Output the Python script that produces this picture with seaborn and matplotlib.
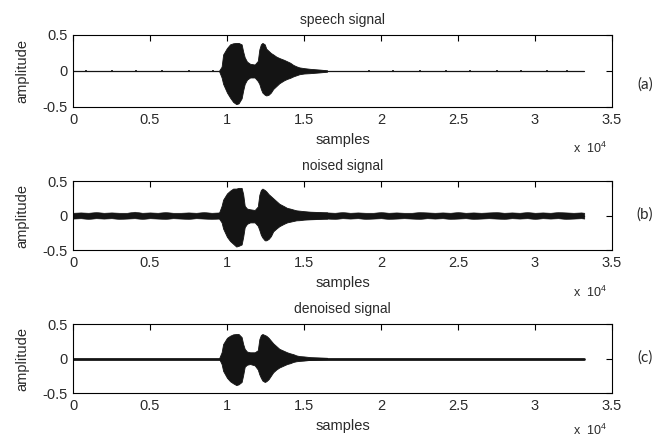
import matplotlib
matplotlib.use("Agg")
import matplotlib.pyplot as plt
import seaborn as sns

# ---------------- data ----------------
titles = ["speech signal", "noised signal", "denoised signal"]
panel_tags = ["(a)", "(b)", "(c)"]
xtick_vals = [0, 5000, 10000, 15000, 20000, 25000, 30000, 35000]
xtick_labels = ["0", "0.5", "1", "1.5", "2", "2.5", "3", "3.5"]
ytick_vals = [-0.5, 0, 0.5]
ytick_labels = ["-0.5", "0", "0.5"]

# baseline of each signal (first / last sample)
base_x = [0, 33200]
base_y = [0.0, 0.0]

# envelope sample positions around the spoken word
env_x = [9500, 9650, 9750, 10000, 10200, 10400, 10600, 10750, 10950, 11050,
         11150, 11300, 11500, 11800, 12000, 12100, 12200, 12300, 12450, 12550,
         12700, 12850, 13000, 13200, 13400, 13700, 13900, 14100, 14300, 14500,
         14700, 15000, 15400, 16000, 16500]

speech_upper = [0.01, 0.06, 0.23, 0.32, 0.37, 0.385, 0.39, 0.39, 0.37, 0.27,
                0.19, 0.13, 0.10, 0.09, 0.14, 0.30, 0.37, 0.39, 0.37, 0.31,
                0.28, 0.25, 0.23, 0.20, 0.18, 0.155, 0.135, 0.115, 0.085, 0.065,
                0.05, 0.04, 0.03, 0.02, 0.01]
speech_lower = [-0.01, -0.09, -0.18, -0.30, -0.37, -0.43, -0.46, -0.45, -0.38, -0.27,
                -0.18, -0.12, -0.09, -0.09, -0.14, -0.18, -0.25, -0.30, -0.33, -0.34,
                -0.33, -0.30, -0.25, -0.21, -0.17, -0.13, -0.11, -0.095, -0.075, -0.06,
                -0.045, -0.035, -0.03, -0.02, -0.01]

noised_upper = [0.05, 0.14, 0.23, 0.32, 0.36, 0.39, 0.39, 0.40, 0.40, 0.31,
                0.14, 0.10, 0.09, 0.08, 0.13, 0.30, 0.37, 0.39, 0.37, 0.35,
                0.31, 0.28, 0.25, 0.21, 0.17, 0.135, 0.11, 0.10, 0.087, 0.075,
                0.07, 0.063, 0.055, 0.05, 0.045]
noised_lower = [-0.05, -0.10, -0.19, -0.31, -0.37, -0.41, -0.45, -0.44, -0.42, -0.31,
                -0.17, -0.12, -0.10, -0.10, -0.15, -0.21, -0.28, -0.32, -0.36, -0.36,
                -0.34, -0.30, -0.23, -0.19, -0.155, -0.12, -0.10, -0.09, -0.08, -0.07,
                -0.068, -0.06, -0.055, -0.05, -0.045]

denoised_upper = [0.01, 0.09, 0.21, 0.30, 0.33, 0.35, 0.355, 0.355, 0.31, 0.21,
                  0.14, 0.10, 0.09, 0.09, 0.12, 0.28, 0.34, 0.355, 0.34, 0.33,
                  0.30, 0.26, 0.22, 0.18, 0.14, 0.11, 0.09, 0.075, 0.063, 0.045,
                  0.035, 0.03, 0.02, 0.015, 0.01]
denoised_lower = [-0.01, -0.08, -0.18, -0.28, -0.33, -0.36, -0.385, -0.375, -0.34, -0.24,
                  -0.12, -0.09, -0.08, -0.10, -0.16, -0.23, -0.28, -0.32, -0.34, -0.33,
                  -0.30, -0.25, -0.20, -0.16, -0.13, -0.10, -0.08, -0.068, -0.05, -0.04,
                  -0.035, -0.03, -0.02, -0.015, -0.01]

# background noise band of the noised signal (every 500 samples)
noise_x = list(range(0, 33500, 500)) + [33200]
noise_upper = [0.04, 0.045, 0.04, 0.05, 0.04, 0.045, 0.04, 0.04, 0.055, 0.04,
               0.045, 0.04, 0.05, 0.04, 0.04, 0.045, 0.04, 0.05, 0.04, 0.045,
               0.06, 0.045, 0.05, 0.06, 0.05, 0.045, 0.06, 0.05, 0.05, 0.05,
               0.05, 0.045, 0.04, 0.045, 0.04, 0.05, 0.04, 0.045, 0.04, 0.04,
               0.05, 0.04, 0.045, 0.04, 0.04, 0.05, 0.045, 0.04, 0.045, 0.04,
               0.05, 0.04, 0.045, 0.04, 0.045, 0.05, 0.04, 0.045, 0.04, 0.05,
               0.04, 0.045, 0.04, 0.05, 0.045, 0.04, 0.045, 0.04]
noise_lower = [-0.045, -0.04, -0.05, -0.04, -0.045, -0.04, -0.05, -0.045, -0.04, -0.05,
               -0.04, -0.045, -0.05, -0.04, -0.045, -0.05, -0.04, -0.045, -0.05, -0.045,
               -0.05, -0.06, -0.05, -0.05, -0.06, -0.05, -0.05, -0.055, -0.05, -0.05,
               -0.045, -0.05, -0.04, -0.045, -0.05, -0.04, -0.045, -0.04, -0.05, -0.045,
               -0.04, -0.05, -0.045, -0.04, -0.045, -0.05, -0.04, -0.045, -0.04, -0.05,
               -0.045, -0.04, -0.05, -0.045, -0.04, -0.045, -0.05, -0.04, -0.045, -0.04,
               -0.05, -0.04, -0.045, -0.04, -0.05, -0.045, -0.04, -0.045]

# small clicks visible on the clean speech baseline
speech_click_x = [840, 2500, 4100, 5800, 7500, 9100, 19200, 20800, 22500,
                  24200, 25800, 27500, 29100, 30800, 32100]
speech_click_amp = [0.012, 0.012, 0.012, 0.012, 0.012, 0.012, 0.012, 0.015, 0.012,
                    0.012, 0.012, 0.012, 0.012, 0.012, 0.015]

# ---------------- styling ----------------
sns.set_theme(style="white")
plt.rcParams["font.family"] = ["Liberation Sans", "DejaVu Sans"]
plt.rcParams["mathtext.fontset"] = "custom"
plt.rcParams["mathtext.rm"] = "Liberation Sans"
plt.rcParams["mathtext.it"] = "Liberation Sans"

W, H = 669, 440
fig = plt.figure(figsize=(W / 100, H / 100), dpi=100)
fig.patch.set_facecolor("white")

def rect(l, t, r, b):
    return [l / W, 1 - b / H, (r - l) / W, (b - t) / H]

boxes = [(73, 35, 612, 107), (73, 181, 612, 250), (73, 324, 612, 393)]
tag_pos = [(645, 85), (645, 215), (645, 358)]
exp_off = [41, 42, 37]
sig = "#141414"
txt = "#2a2a2a"

uppers = [speech_upper, noised_upper, denoised_upper]
lowers = [speech_lower, noised_lower, denoised_lower]
base_lw = [0.9, 1.0, 2.0]

for i in range(3):
    l, t, r, b = boxes[i]
    ax = fig.add_axes(rect(l, t, r, b))
    ax.set_facecolor("white")
    if i == 1:
        ax.fill_between(noise_x, noise_lower, noise_upper, color=sig, lw=0.4)
    sns.lineplot(x=base_x, y=base_y, ax=ax, color=sig, lw=base_lw[i])
    if i == 0:
        ax.vlines(speech_click_x, [-a for a in speech_click_amp], speech_click_amp,
                  color=sig, lw=1.2)
    ax.fill_between(env_x, lowers[i], uppers[i], color=sig, lw=0.6, edgecolor=sig)

    ax.set_xlim(0, 35000)
    ax.set_ylim(-0.5, 0.5)
    ax.set_xticks(xtick_vals)
    ax.set_xticklabels(xtick_labels)
    ax.set_yticks(ytick_vals)
    ax.set_yticklabels(ytick_labels)
    ax.tick_params(direction="in", length=4, width=0.8, top=True, right=True,
                   labelsize=10.5, colors="black", labelcolor=txt)
    ax.tick_params(axis="x", pad=4)
    ax.tick_params(axis="y", pad=4)
    for s in ax.spines.values():
        s.set_color("black")
        s.set_linewidth(0.8)
    ax.grid(False)

    h = b - t
    ax.set_title(titles[i], fontsize=10, color=txt, pad=8)
    ax.set_xlabel("samples", fontsize=10.5, color=txt)
    ax.xaxis.set_label_coords(0.5, -26 / h)
    ax.xaxis.label.set_va("top")
    ax.set_ylabel("amplitude", fontsize=10.5, color=txt)
    ax.yaxis.set_label_coords((22 - 73) / (r - l), 0.5)
    ax.yaxis.label.set_va("center")

    fig.text(573 / W, 1 - (b + exp_off[i]) / H, r"x  10$^{4}$", fontsize=9, color=txt,
             ha="left", va="center")
    tx, ty = tag_pos[i]
    fig.text(tx / W, 1 - ty / H, panel_tags[i], fontsize=11, color=txt,
             ha="center", va="center", family=["Lato", "DejaVu Sans"])

fig.savefig("out.png", dpi=100, facecolor="white")
